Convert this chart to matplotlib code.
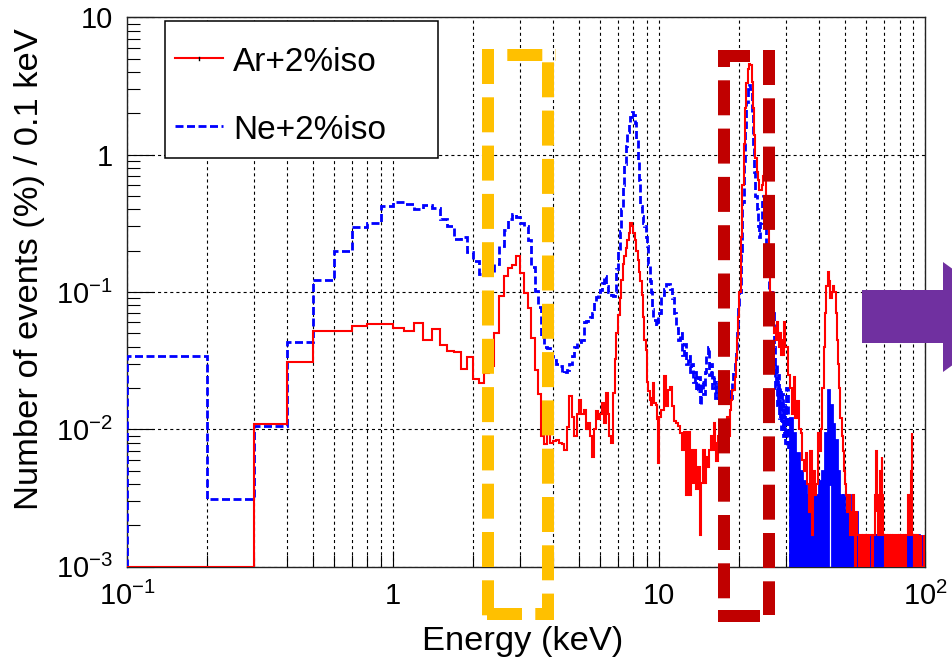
import numpy as np
import matplotlib
matplotlib.use("Agg")
import matplotlib.pyplot as plt
from matplotlib import transforms as mtransforms
from matplotlib.lines import Line2D
from matplotlib.patches import Polygon, Rectangle
from matplotlib.ticker import FixedLocator, FixedFormatter, NullFormatter

plt.rcParams['font.family'] = ['Liberation Sans', 'DejaVu Sans']
plt.rcParams['mathtext.fontset'] = 'custom'
plt.rcParams['mathtext.rm'] = 'Liberation Sans'
plt.rcParams['mathtext.it'] = 'Liberation Sans:italic'
plt.rcParams['mathtext.bf'] = 'Liberation Sans:bold'
plt.rcParams['lines.scale_dashes'] = False

# ---------------------------------------------------------------------------
# Energy spectra, % of events per 0.1 keV
# bins: 0.1 keV up to 10 keV, 0.2 keV for 10-20, 0.25 keV for 20-30, 0.5 keV above
# ---------------------------------------------------------------------------
edges = np.concatenate([
    np.arange(1, 101) / 10.0,
    10.0 + 0.2 * np.arange(1, 51),
    20.0 + 0.25 * np.arange(1, 41),
    30.0 + 0.5 * np.arange(1, 141),
])

# Ar + 2% isobutane
ar_low = [
    0, 0, 0.011, 0.031, 0.052, 0.052, 0.057, 0.058, 0.0585,            # 0.1-1.0
    0.0546, 0.052, 0.0595, 0.0446, 0.054, 0.041, 0.0371, 0.0363, 0.0277, 0.0339,  # 1-2
    0.0233, 0.0216, 0.0257, 0.0287, 0.050, 0.093, 0.130, 0.149, 0.158, 0.182,     # 2-3
    0.137, 0.098, 0.077, 0.046, 0.027, 0.018, 0.0089, 0.0078, 0.0092, 0.0080,     # 3-4
    0.0082, 0.0084, 0.0080, 0.0078, 0.0071, 0.0104, 0.0174, 0.0124, 0.0089, 0.0130,  # 4-5
    0.0164, 0.0130, 0.0139, 0.0100, 0.0112, 0.0089, 0.0063, 0.0100, 0.0136, 0.0118,  # 5-6
    0.0130, 0.0155, 0.0112, 0.0184, 0.0130, 0.0089, 0.0080, 0.0184, 0.0326, 0.050,   # 6-7
    0.068, 0.090, 0.123, 0.160, 0.182, 0.210, 0.240, 0.270, 0.320, 0.300,            # 7-8
    0.270, 0.240, 0.200, 0.170, 0.140, 0.120, 0.095, 0.066, 0.045, 0.038,            # 8-9
    0.022, 0.019, 0.0164, 0.0150, 0.0170, 0.0218, 0.0156, 0.0150, 0.0118, 0.0057,    # 9-10
]
ar_mid = [
    0.0124, 0.0139, 0.0243, 0.0147, 0.0194, 0.0205, 0.0147, 0.0115, 0.0112, 0.0105,  # 10-12
    0.0094, 0.0071, 0.0096, 0.0033, 0.0096, 0.0033, 0.0071, 0.0041, 0.0071, 0.0037,  # 12-14
    0.0053, 0.0017, 0.0041, 0.0071, 0.0041, 0.0063, 0.0053, 0.0071, 0.0089, 0.0071,  # 14-16
    0.0112, 0.0080, 0.0059, 0.0089, 0.0071, 0.0100, 0.0080, 0.0112, 0.0089, 0.0112,  # 16-18
    0.0124, 0.0089, 0.0139, 0.0164, 0.0194, 0.0194, 0.0240, 0.0330, 0.0460, 0.0660,  # 18-20
]
ar_peak = [
    0.10, 0.25, 0.60, 1.20, 2.20, 3.30, 4.20, 4.60,      # 20-22
    4.50, 3.40, 2.20, 1.40, 0.95, 0.75, 0.65, 0.55,      # 22-24
    0.55, 0.60, 0.70, 0.75, 0.68, 0.50, 0.30, 0.17,      # 24-26
    0.10, 0.075, 0.060, 0.065, 0.050, 0.055, 0.045, 0.060,  # 26-28
    0.050, 0.040, 0.050, 0.035, 0.045, 0.035, 0.060, 0.040,  # 28-30
]
ar_high = [
    0.040, 0.025, 0.020, 0.013, 0.024, 0.012, 0.016, 0.010, 0.0094, 0.0060,    # 30-35
    0.0050, 0.0067, 0.0040, 0.0025, 0.0069, 0.0017, 0.0050, 0.0033, 0.0040, 0.0094,  # 35-40
    0.0070, 0.010, 0.020, 0.040, 0.070, 0.110, 0.140, 0.120, 0.090, 0.100,     # 40-45
    0.110, 0.100, 0.070, 0.045, 0.030, 0.020, 0.012, 0.009, 0.007, 0.005,      # 45-50
    0.0040, 0.0033, 0.0025, 0.0033, 0.0017, 0.0025, 0.0017, 0.0033, 0.0017, 0,  # 50-55
    0.0025, 0.0017, 0.0017, 0, 0.0017, 0.0017, 0, 0.0017, 0.0017, 0,           # 55-60
    0.0017, 0.0017, 0, 0.0017, 0.0017, 0.0017, 0, 0.0017, 0.0017, 0.0033,      # 60-65
    0.0025, 0.0069, 0.0033, 0.0017, 0.0025, 0.0050, 0.0017, 0.0063, 0.0033, 0.0017,  # 65-70
    0.0017, 0, 0.0017, 0.0017, 0, 0.0017, 0.0017, 0, 0.0017, 0.0017,           # 70-75
    0, 0.0017, 0.0017, 0.0017, 0, 0, 0.0017, 0.0017, 0, 0.0017,                # 75-80
    0.0017, 0, 0.0017, 0.0017, 0.0017, 0, 0.0017, 0.0017, 0, 0.0017,           # 80-85
    0.0017, 0.0017, 0.0033, 0.0017, 0.0017, 0.0033, 0.0033, 0.0050, 0.0094, 0.0017,  # 85-90
    0.0017, 0, 0.0017, 0.0017, 0, 0.0017, 0.0017, 0, 0, 0.0017,                # 90-95
    0, 0, 0.0017, 0, 0, 0, 0, 0.0017, 0, 0,                                    # 95-100
]

# Ne + 2% isobutane
ne_low = [
    0.034, 0.0031, 0.0105, 0.0435, 0.122, 0.200, 0.295, 0.320, 0.420,          # 0.1-1.0
    0.450, 0.440, 0.400, 0.430, 0.410, 0.340, 0.300, 0.245, 0.250, 0.194,      # 1-2
    0.167, 0.135, 0.135, 0.135, 0.160, 0.215, 0.285, 0.340, 0.370, 0.350,      # 2-3
    0.320, 0.300, 0.240, 0.153, 0.101, 0.078, 0.048, 0.040, 0.039, 0.034,      # 3-4
    0.032, 0.030, 0.0287, 0.0256, 0.026, 0.027, 0.030, 0.034, 0.040, 0.043,    # 4-5
    0.043, 0.045, 0.060, 0.062, 0.065, 0.066, 0.070, 0.084, 0.092, 0.100,      # 5-6
    0.103, 0.117, 0.130, 0.110, 0.100, 0.098, 0.095, 0.093, 0.100, 0.146,      # 6-7
    0.200, 0.280, 0.400, 0.600, 0.850, 1.15, 1.45, 1.70, 1.88, 2.06,           # 7-8
    1.95, 1.70, 1.30, 0.92, 0.65, 0.42, 0.36, 0.32, 0.30, 0.25,                # 8-9
    0.215, 0.160, 0.120, 0.100, 0.075, 0.063, 0.063, 0.057, 0.060, 0.066,      # 9-10
]
ne_mid = [
    0.070, 0.095, 0.105, 0.115, 0.115, 0.105, 0.090, 0.070, 0.055, 0.045,      # 10-12
    0.050, 0.035, 0.042, 0.030, 0.034, 0.026, 0.030, 0.022, 0.026, 0.019,      # 12-14
    0.024, 0.015, 0.022, 0.018, 0.026, 0.035, 0.040, 0.025, 0.030, 0.020,      # 14-16
    0.024, 0.017, 0.022, 0.016, 0.020, 0.018, 0.022, 0.016, 0.020, 0.017,      # 16-18
    0.021, 0.016, 0.019, 0.017, 0.022, 0.026, 0.030, 0.037, 0.050, 0.075,      # 18-20
]
ne_peak = [
    0.10, 0.20, 0.45, 0.90, 1.60, 2.40, 3.00, 3.20,      # 20-22
    3.00, 2.00, 1.20, 0.75, 0.50, 0.40, 0.30, 0.25,      # 22-24
    0.32, 0.45, 0.50, 0.45, 0.35, 0.22, 0.14, 0.10,      # 24-26
    0.08, 0.10, 0.06, 0.07, 0.04, 0.02, 0.03, 0.015,     # 26-28
    0.025, 0.012, 0.020, 0.010, 0.018, 0.009, 0.015, 0.008,  # 28-30
]
ne_high = [
    0.020, 0.007, 0.012, 0, 0.0094, 0, 0.0067, 0, 0.0050, 0,                   # 30-35
    0.0042, 0, 0.0033, 0, 0.0042, 0, 0.0033, 0, 0.0033, 0,                     # 35-40
    0.0042, 0, 0.0050, 0, 0.0094, 0, 0.0194, 0.0040, 0.0150, 0,                # 40-45
    0.0110, 0, 0.0083, 0, 0.0050, 0, 0.0033, 0, 0.0033, 0,                     # 45-50
    0.0025, 0, 0.0033, 0, 0.0025, 0, 0.0033, 0, 0.0017, 0,                     # 50-55
    0.0025, 0, 0.0017, 0, 0.0017, 0, 0.0017, 0, 0.0017, 0,                     # 55-60
    0.0017, 0, 0.0017, 0, 0.0017, 0, 0.0017, 0, 0.0017, 0,                     # 60-65
    0.0017, 0, 0.0017, 0, 0.0017, 0, 0.0017, 0, 0.0017, 0,                     # 65-70
    0.0017, 0, 0.0017, 0, 0.0017, 0, 0.0017, 0, 0.0017, 0,                     # 70-75
    0.0017, 0, 0.0017, 0, 0, 0, 0, 0, 0, 0,                                    # 75-80
    0, 0, 0.0017, 0, 0.0017, 0, 0.0017, 0, 0.0017, 0,                          # 80-85
    0.0017, 0, 0.0017, 0, 0.0033, 0, 0.0033, 0, 0.0017, 0,                     # 85-90
    0.0017, 0, 0.0017, 0, 0, 0, 0, 0, 0.0017, 0,                               # 90-95
    0, 0, 0.0017, 0, 0, 0, 0, 0, 0, 0,                                         # 95-100
]

labels = ["Ar+2%iso", "Ne+2%iso"]
x_ticks = [0.1, 1, 10, 100]
x_ticklabels = [r"$\mathregular{10^{-1}}$", "1", "10", r"$\mathregular{10^{2}}$"]
y_ticks = [1e-3, 1e-2, 1e-1, 1, 10]
y_ticklabels = [r"$\mathregular{10^{-3}}$", r"$\mathregular{10^{-2}}$",
                r"$\mathregular{10^{-1}}$", "1", "10"]
x_title = "Energy (keV)"
y_title = "Number of events (%) / 0.1 keV"

ar = np.array(ar_low + ar_mid + ar_peak + ar_high, dtype=float)
ne = np.array(ne_low + ne_mid + ne_peak + ne_high, dtype=float)
assert len(ar) == len(edges) - 1 and len(ne) == len(edges) - 1

YMIN, YMAX = 1e-3, 10.0
XMIN, XMAX = 0.1, 100.0
# empty bins sit on the lower frame, as in the ROOT display
ar_draw = np.where(ar > 0, ar, YMIN)
ne_draw = np.where(ne > 0, ne, YMIN)

W, H = 952, 664
fig = plt.figure(figsize=(W / 100, H / 100), dpi=100)
PT = 0.72  # points per pixel at 100 dpi

ax_l, ax_r, ax_t, ax_b = 127.0, 925.3, 17.3, 566.7
ax = fig.add_axes([ax_l / W, 1 - ax_b / H, (ax_r - ax_l) / W, (ax_b - ax_t) / H])
ax.set_xscale("log")
ax.set_yscale("log")
ax.set_xlim(XMIN, XMAX)
ax.set_ylim(YMIN, YMAX)

red, blue = "#FF0000", "#0000FF"
blue_dash = (0, (8 * PT, 3.5 * PT))

# Ne spectrum: dashed line; in the sparse high-energy tail the densely
# alternating bins merge into a solid band
k = int(np.searchsorted(edges, 31.0))
ax.stairs(ne_draw[:k], edges[:k + 1], baseline=YMIN, color=blue, lw=2.0,
          linestyle=blue_dash, zorder=3)
ax.stairs(ne_draw[k:], edges[k:], baseline=YMIN, color=blue, lw=2.0,
          zorder=3)
ax.stairs(ar_draw, edges, baseline=YMIN, color=red, lw=1.5, zorder=4)

# log axes with ROOT-like inner ticks
minor_x = [m * 10.0 ** e for e in range(-1, 2) for m in range(2, 10)]
minor_y = [m * 10.0 ** e for e in range(-3, 1) for m in range(2, 10)]
ax.xaxis.set_major_locator(FixedLocator(x_ticks))
ax.xaxis.set_major_formatter(FixedFormatter(x_ticklabels))
ax.xaxis.set_minor_locator(FixedLocator(minor_x))
ax.xaxis.set_minor_formatter(NullFormatter())
ax.yaxis.set_major_locator(FixedLocator(y_ticks))
ax.yaxis.set_major_formatter(FixedFormatter(y_ticklabels))
ax.yaxis.set_minor_locator(FixedLocator(minor_y))
ax.yaxis.set_minor_formatter(NullFormatter())

ax.tick_params(which="both", direction="in", top=False, right=False,
               color="black", width=0.8)
ax.tick_params(axis="y", which="major", length=27 * PT, pad=10, labelsize=21)
ax.tick_params(axis="y", which="minor", length=13 * PT)
ax.tick_params(axis="x", which="major", length=16 * PT, pad=11, labelsize=21)
ax.tick_params(axis="x", which="minor", length=12 * PT)

grid_style = dict(color="black", lw=0.8, linestyle=(0, (2.2, 2.2)))
ax.grid(True, which="major", axis="both", **grid_style)
ax.grid(True, which="minor", axis="x", **grid_style)
for sp in ax.spines.values():
    sp.set_linewidth(1.0)
    sp.set_color("#222222")

# axis titles
fig.text(30 / W, 1 - 28 / H, y_title, rotation=90, ha="center", va="top",
         fontsize=24.8)
fig.text(523 / W, 1 - 650 / H, x_title, ha="center", va="baseline",
         fontsize=24.8)

# pixel coordinates (origin top-left) for the overlay layer
pix = mtransforms.Affine2D().scale(1 / W, -1 / H).translate(0, 1) + fig.transFigure

# legend box
fig.add_artist(Rectangle((165, 21), 273, 137, transform=pix, facecolor="white",
                         edgecolor="black", lw=1.1, zorder=5))
fig.add_artist(Line2D([175, 223], [58, 58], transform=pix, color=red, lw=1.5,
                      zorder=6))
fig.add_artist(Line2D([199, 199], [56.5, 59.5], transform=pix, color="black",
                      lw=1.0, zorder=6))
fig.add_artist(Line2D([175, 223], [126, 126], transform=pix, color=blue, lw=2.0,
                      linestyle=blue_dash, zorder=6))
fig.text(233 / W, 1 - 71 / H, labels[0], fontsize=24, va="baseline", zorder=6)
fig.text(233 / W, 1 - 139 / H, labels[1], fontsize=24, va="baseline", zorder=6)


def dashed_side(xs, ys, color, offset_px, on_px=35, off_px=13.3, solid=False):
    ls = "-" if solid else (offset_px * PT, (on_px * PT, off_px * PT))
    fig.add_artist(Line2D(xs, ys, transform=pix, color=color, lw=12 * PT,
                          linestyle=ls, dash_capstyle="butt",
                          solid_capstyle="butt", zorder=7))


# highlighted energy windows
gold = "#FFC000"
dashed_side([488, 488], [49, 620], gold, 0)
dashed_side([482, 556], [55, 55], gold, 23)
dashed_side([547.5, 547.5], [49, 620], gold, 35)
dashed_side([487, 553], [614, 614], gold, 0)

dark_red = "#C00000"
dashed_side([724, 724], [50, 622], dark_red, 18)
dashed_side([718, 775], [56, 56], dark_red, 3)
dashed_side([769, 769], [50, 615], dark_red, 0)
dashed_side([718, 760], [616, 616], dark_red, 0, solid=True)

# arrow leading to the right
fig.add_artist(Polygon([(862, 290), (943, 290), (943, 262), (1019, 317),
                        (943, 372), (943, 343), (862, 343)], closed=True,
                       transform=pix, facecolor="#7030A0", edgecolor="none",
                       zorder=8, clip_on=False))

fig.savefig("out.png", dpi=100)
